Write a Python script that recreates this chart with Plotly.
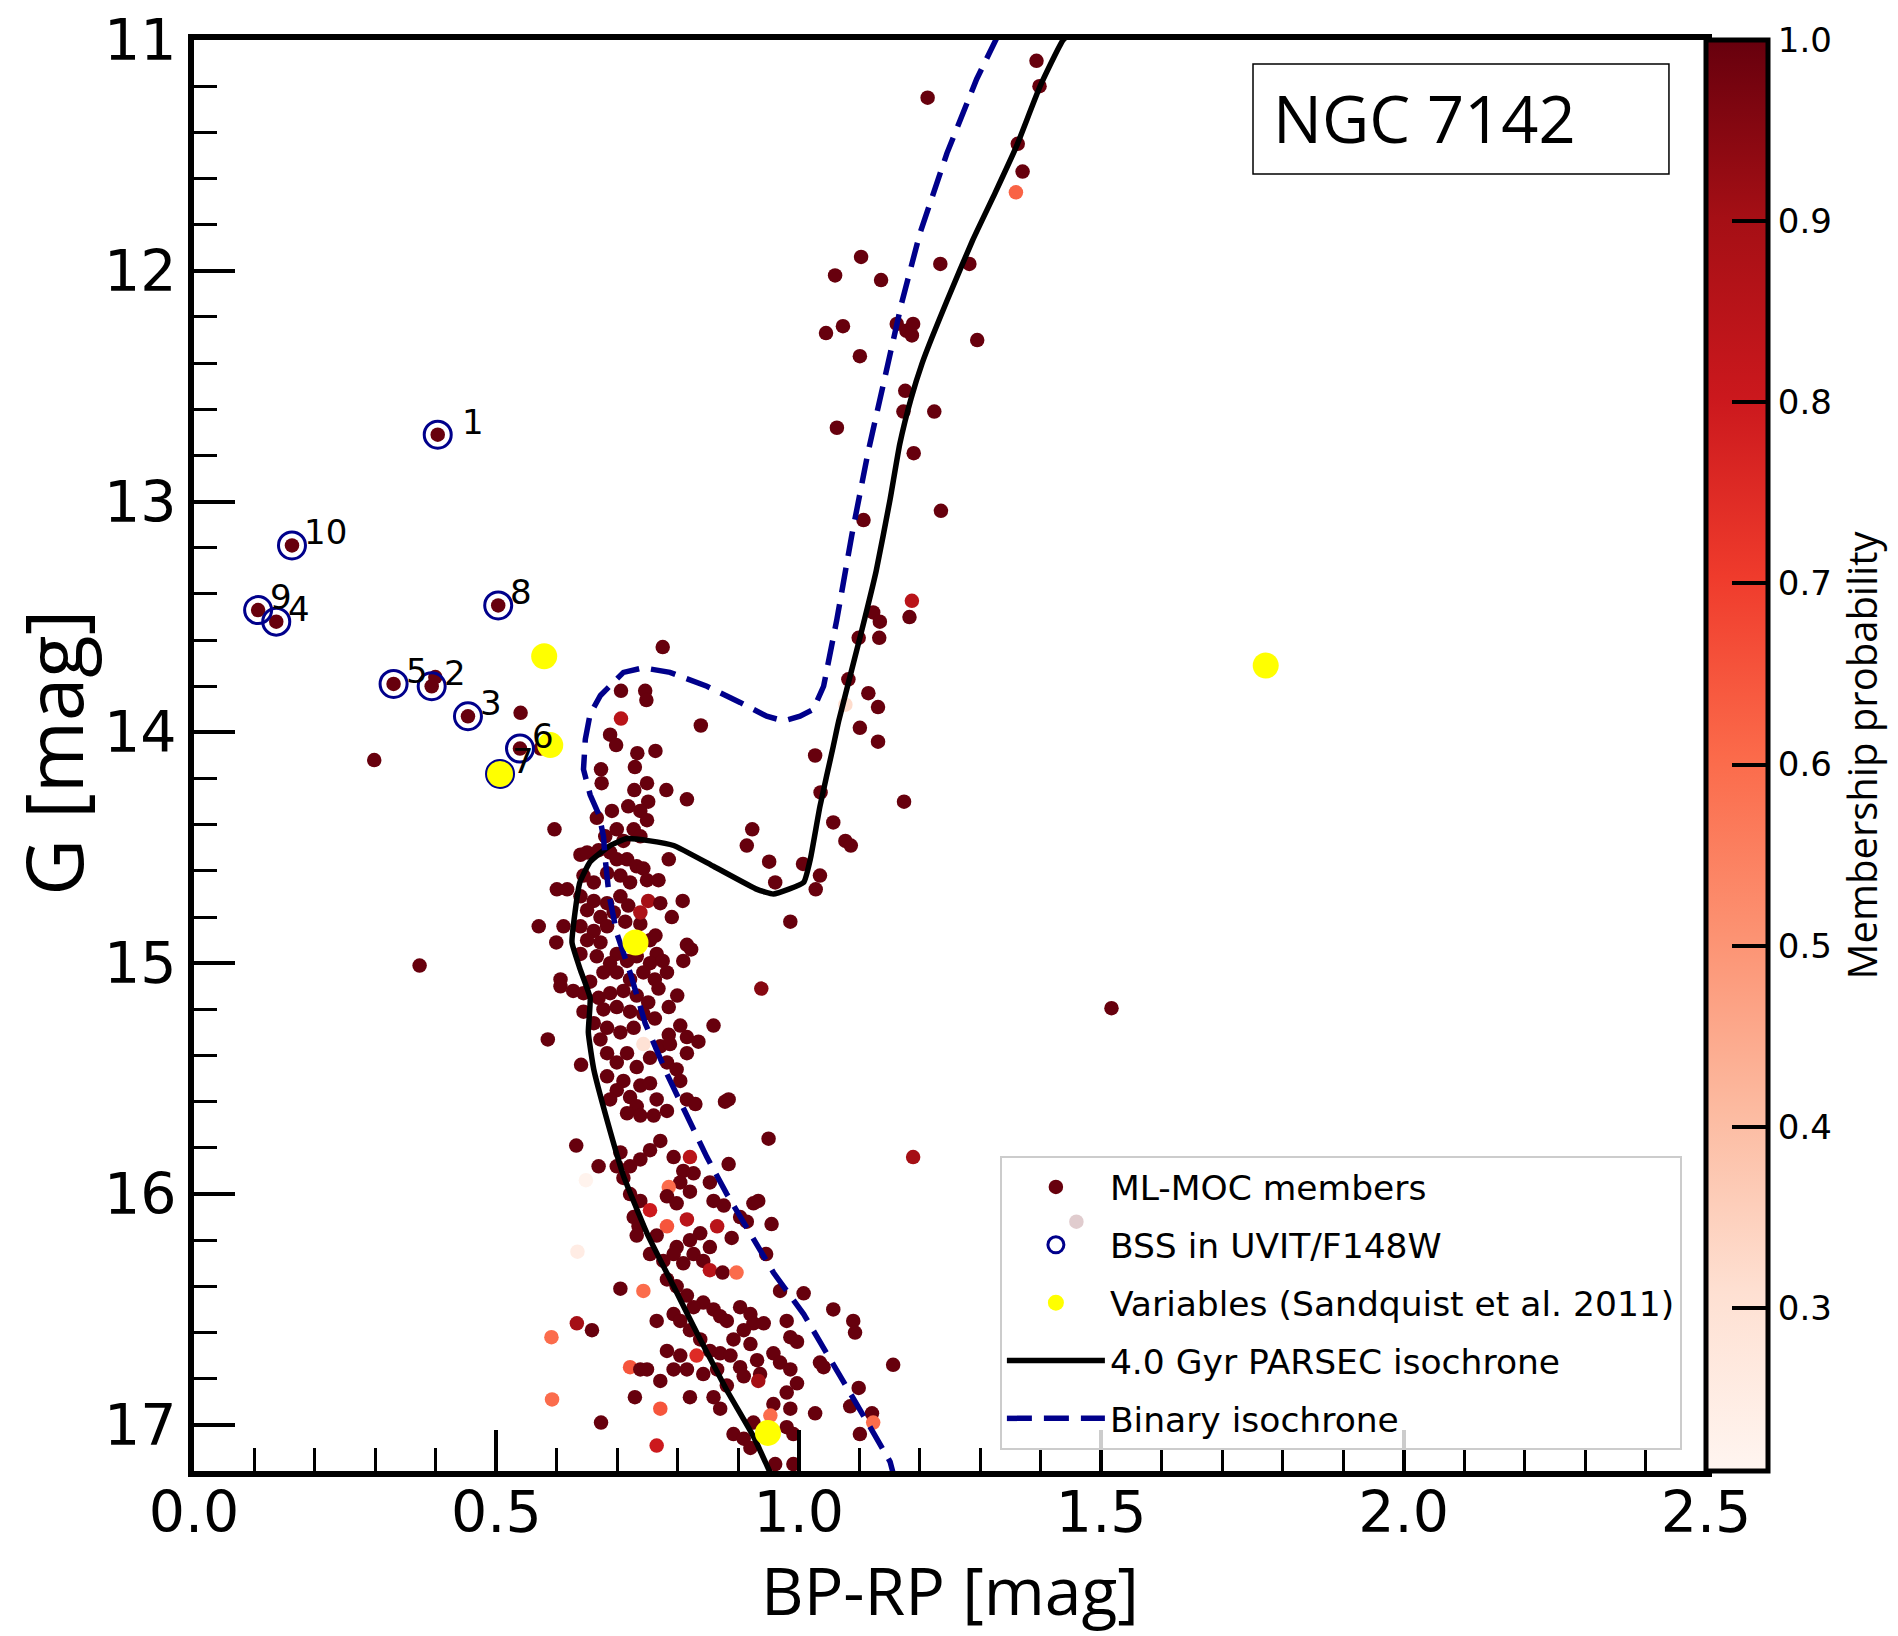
import plotly.graph_objects as go

# ---------------- data ----------------
# cluster members: (BP-RP, G, membership probability)
bss_region_members = [
    (0.403, 12.71, 1.0), (0.162, 13.19, 1.0), (0.106, 13.47, 1.0), (0.136, 13.52, 1.0),
    (0.503, 13.45, 1.0), (0.330, 13.79, 1.0), (0.393, 13.80, 1.0), (0.399, 13.76, 1.0),
    (0.453, 13.93, 1.0), (0.539, 14.07, 1.0), (0.506, 14.18, 1.0), (0.573, 14.07, 1.0),
    (0.540, 13.915, 1.0), (0.298, 14.12, 1.0), (0.373, 15.01, 1.0),
]
giant_branch_members = [
    (1.393, 11.09, 1), (1.398, 11.20, 1), (1.213, 11.25, 1), (1.362, 11.45, 1), (1.370, 11.57, 1),
    (1.359, 11.66, 0.62), (1.103, 11.94, 1), (1.060, 12.02, 1), (1.136, 12.04, 1), (1.234, 11.97, 1),
    (1.282, 11.97, 1), (1.045, 12.27, 1), (1.073, 12.24, 1), (1.101, 12.37, 1), (1.162, 12.23, 1),
    (1.178, 12.26, 1), (1.187, 12.28, 1), (1.189, 12.23, 1), (1.295, 12.30, 1), (1.176, 12.52, 1),
    (1.173, 12.61, 1), (1.224, 12.61, 1), (1.063, 12.68, 1), (1.190, 12.79, 1), (1.235, 13.04, 1),
    (1.107, 13.08, 1), (1.187, 13.43, 0.85), (1.183, 13.50, 1), (1.123, 13.48, 1), (1.134, 13.52, 1),
    (1.099, 13.59, 1), (1.133, 13.59, 1), (1.082, 13.77, 1), (1.115, 13.83, 1), (1.131, 13.89, 1),
    (1.077, 13.88, 0.32), (1.101, 13.98, 1), (1.131, 14.04, 1), (1.174, 14.30, 1), (1.027, 14.10, 1),
    (1.036, 14.26, 1), (1.057, 14.39, 1), (1.077, 14.47, 1), (1.086, 14.49, 1), (1.035, 14.62, 1),
    (1.028, 14.68, 1), (1.007, 14.57, 1), (0.961, 14.65, 1), (0.951, 14.56, 1), (0.914, 14.49, 1),
    (0.923, 14.42, 1), (0.986, 14.82, 1), (1.517, 15.195, 1), (1.189, 15.84, 0.9), (1.459, 16.12, 1),
    (1.156, 16.74, 1),
]
turnoff_members = [
    (0.775, 13.63, 1), (0.706, 13.82, 1), (0.746, 13.82, 1), (0.748, 13.86, 1), (0.706, 13.94, 0.85),
    (0.838, 13.97, 1), (0.688, 14.01, 1), (0.698, 14.055, 1), (0.733, 14.09, 1), (0.763, 14.08, 1),
    (0.673, 14.16, 1), (0.729, 14.15, 1), (0.674, 14.22, 1), (0.749, 14.22, 1), (0.728, 14.25, 1),
    (0.781, 14.25, 1), (0.815, 14.29, 1), (0.596, 14.42, 1), (0.751, 14.30, 1), (0.738, 14.34, 1),
    (0.718, 14.32, 1), (0.691, 14.34, 1), (0.666, 14.37, 1), (0.749, 14.38, 1), (0.727, 14.42, 1),
    (0.699, 14.42, 1), (0.680, 14.45, 1), (0.738, 14.45, 1), (0.710, 14.47, 1), (0.639, 14.53, 1),
    (0.650, 14.52, 1), (0.669, 14.51, 1), (0.688, 14.52, 1), (0.699, 14.55, 1), (0.716, 14.55, 1),
    (0.732, 14.58, 1), (0.743, 14.59, 1), (0.785, 14.55, 1), (0.683, 14.61, 1), (0.705, 14.62, 1),
    (0.644, 14.62, 1), (0.661, 14.65, 1), (0.721, 14.65, 1), (0.749, 14.64, 1), (0.768, 14.64, 1),
    (0.600, 14.68, 1), (0.617, 14.68, 1),
]
upper_ms_members = [
    (0.639, 14.71, 1), (0.661, 14.73, 1), (0.683, 14.74, 1), (0.705, 14.71, 1), (0.718, 14.75, 1),
    (0.650, 14.77, 1), (0.672, 14.80, 1), (0.694, 14.78, 1), (0.713, 14.82, 1), (0.738, 14.83, 1),
    (0.751, 14.73, 0.9), (0.738, 14.78, 0.88), (0.771, 14.74, 1), (0.808, 14.73, 1), (0.790, 14.80, 1),
    (0.570, 14.84, 1), (0.611, 14.84, 1), (0.639, 14.84, 1), (0.661, 14.86, 1), (0.683, 14.84, 1),
    (0.599, 14.91, 1), (0.650, 14.90, 1), (0.672, 14.91, 1), (0.754, 14.90, 1), (0.763, 14.88, 1),
    (0.815, 14.92, 1), (0.822, 14.94, 1), (0.639, 14.96, 1), (0.699, 14.96, 1), (0.765, 14.96, 1),
    (0.666, 14.97, 1), (0.688, 15.00, 1), (0.716, 14.99, 1), (0.732, 14.97, 1), (0.754, 15.00, 1),
    (0.775, 14.99, 1), (0.809, 14.99, 1), (0.606, 15.07, 1), (0.606, 15.10, 1), (0.627, 15.12, 1),
    (0.677, 15.04, 1), (0.699, 15.04, 1), (0.743, 15.04, 1), (0.782, 15.04, 1), (0.655, 15.08, 1),
    (0.721, 15.07, 1), (0.762, 15.07, 1), (0.644, 15.13, 1), (0.669, 15.15, 1), (0.688, 15.13, 1),
    (0.710, 15.12, 1), (0.732, 15.14, 1), (0.751, 15.17, 1), (0.768, 15.11, 1), (0.799, 15.14, 1),
    (0.938, 15.11, 0.95), (0.644, 15.21, 1), (0.677, 15.20, 1), (0.699, 15.19, 1), (0.721, 15.21, 1),
    (0.743, 15.22, 1), (0.762, 15.24, 1), (0.785, 15.19, 1), (0.585, 15.33, 1), (0.661, 15.26, 1),
    (0.683, 15.28, 1), (0.705, 15.30, 1), (0.727, 15.28, 1), (0.804, 15.27, 1), (0.859, 15.27, 1),
    (0.785, 15.31, 1), (0.815, 15.32, 1), (0.672, 15.33, 1), (0.743, 15.35, 0.3), (0.834, 15.34, 1),
    (0.815, 15.39, 1), (0.683, 15.39, 1), (0.716, 15.39, 1), (0.754, 15.41, 1), (0.771, 15.36, 1),
    (0.787, 15.35, 1), (0.699, 15.43, 1), (0.732, 15.45, 1), (0.782, 15.43, 1), (0.798, 15.46, 1),
    (0.640, 15.44, 1), (0.683, 15.49, 1), (0.710, 15.51, 1), (0.738, 15.53, 1), (0.754, 15.52, 1),
    (0.804, 15.51, 1), (0.699, 15.55, 1), (0.688, 15.59, 1), (0.721, 15.58, 1), (0.765, 15.59, 1),
    (0.815, 15.59, 1), (0.829, 15.61, 1), (0.878, 15.60, 1), (0.884, 15.59, 1), (0.732, 15.62, 1),
    (0.716, 15.65, 1), (0.738, 15.66, 1), (0.760, 15.66, 1), (0.782, 15.64, 1),
]
lower_ms_members = [
    (0.950, 15.76, 1), (0.771, 15.77, 1), (0.632, 15.79, 1), (0.754, 15.81, 1), (0.705, 15.82, 1),
    (0.793, 15.84, 1), (0.738, 15.85, 1), (0.820, 15.84, 0.85), (0.884, 15.87, 1), (0.669, 15.88, 1),
    (0.699, 15.88, 1), (0.721, 15.88, 1), (0.809, 15.90, 1), (0.826, 15.91, 1), (0.710, 15.93, 1),
    (0.648, 15.94, 0.22), (0.804, 15.95, 1), (0.853, 15.95, 1), (0.785, 15.97, 0.6), (0.721, 16.00, 1),
    (0.820, 15.99, 1), (0.782, 16.01, 1), (0.738, 16.03, 1), (0.798, 16.04, 1), (0.859, 16.03, 1),
    (0.876, 16.05, 1), (0.925, 16.04, 1), (0.933, 16.03, 1), (0.754, 16.07, 0.8), (0.727, 16.10, 1),
    (0.903, 16.10, 1), (0.815, 16.11, 0.85), (0.914, 16.12, 1), (0.955, 16.13, 1), (0.782, 16.14, 0.65),
    (0.735, 16.14, 1), (0.865, 16.14, 0.85), (0.837, 16.17, 1), (0.732, 16.18, 1), (0.765, 16.18, 1),
    (0.889, 16.19, 1), (0.820, 16.20, 1), (0.798, 16.23, 1), (0.853, 16.23, 1), (0.634, 16.25, 0.25),
    (0.826, 16.26, 1), (0.793, 16.26, 1), (0.754, 16.26, 1), (0.946, 16.26, 1), (0.776, 16.29, 1),
    (0.842, 16.29, 1), (0.809, 16.30, 1), (0.853, 16.33, 0.85), (0.874, 16.34, 1), (0.897, 16.34, 0.6),
    (0.782, 16.37, 1), (0.798, 16.40, 1), (0.705, 16.41, 1), (0.743, 16.42, 0.6), (0.969, 16.42, 1),
    (1.008, 16.43, 1), (0.815, 16.44, 1), (0.842, 16.47, 1), (0.826, 16.49, 1), (0.903, 16.49, 1),
    (0.859, 16.50, 1), (1.057, 16.50, 1), (0.793, 16.52, 1), (0.920, 16.52, 1), (0.870, 16.53, 1),
    (0.765, 16.55, 1), (0.804, 16.55, 1), (0.881, 16.55, 1), (0.980, 16.55, 1), (1.090, 16.55, 1),
    (0.633, 16.56, 0.9), (0.925, 16.56, 1), (0.942, 16.56, 1), (0.658, 16.59, 1), (0.820, 16.59, 1),
    (0.909, 16.59, 1), (1.093, 16.60, 1), (0.591, 16.62, 0.6), (0.986, 16.62, 1), (0.837, 16.63, 1),
    (0.892, 16.63, 1), (0.997, 16.64, 1), (0.920, 16.65, 1), (0.782, 16.68, 1), (0.853, 16.68, 1),
    (0.870, 16.69, 1), (0.958, 16.69, 1), (0.804, 16.70, 1), (0.831, 16.70, 0.75), (0.887, 16.70, 1),
    (0.931, 16.72, 1), (0.969, 16.73, 1), (1.035, 16.73, 1), (0.721, 16.75, 0.65), (0.903, 16.75, 1),
    (1.041, 16.75, 1), (0.738, 16.76, 1), (0.749, 16.76, 1), (0.793, 16.76, 1), (0.815, 16.76, 1),
    (0.865, 16.76, 1), (0.986, 16.76, 1), (0.842, 16.78, 1), (0.936, 16.78, 1), (0.909, 16.79, 1),
    (0.771, 16.81, 1), (0.933, 16.81, 0.9), (0.997, 16.82, 1), (0.881, 16.83, 1), (1.099, 16.84, 1),
    (0.980, 16.86, 1), (0.729, 16.88, 1), (0.820, 16.88, 1), (0.859, 16.88, 1), (0.592, 16.89, 0.6),
    (0.958, 16.91, 1), (1.085, 16.92, 1), (0.771, 16.93, 0.65), (0.870, 16.93, 1), (0.986, 16.93, 1),
    (1.027, 16.95, 1), (1.121, 16.95, 1), (0.953, 16.96, 0.6), (0.673, 16.99, 1), (0.925, 16.99, 1),
    (1.123, 16.99, 0.6), (0.980, 17.01, 1), (0.892, 17.04, 1), (0.991, 17.04, 1), (1.101, 17.04, 1),
    (0.909, 17.06, 1), (0.765, 17.09, 0.8), (0.920, 17.10, 1), (0.961, 17.17, 1), (0.991, 17.17, 1),
]

# blue stragglers detected in UVIT/F148W
bss_id = [1, 2, 3, 4, 5, 6, 7, 8, 9, 10]
bss_bprp = [0.403, 0.393, 0.453, 0.136, 0.330, 0.539, 0.506, 0.503, 0.106, 0.162]
bss_g = [12.71, 13.80, 13.93, 13.52, 13.79, 14.07, 14.18, 13.45, 13.47, 13.19]

# variables (Sandquist et al. 2011)
var_bprp = [0.579, 0.589, 0.506, 0.730, 0.949, 1.772]
var_g = [13.67, 14.055, 14.18, 14.91, 17.035, 13.71]

# 4.0 Gyr PARSEC isochrone
iso_bprp = [0.960, 0.925, 0.881, 0.837, 0.793, 0.749, 0.710, 0.683, 0.661, 0.652, 0.655, 0.639,
            0.625, 0.630, 0.638, 0.655, 0.688, 0.716, 0.754, 0.793, 0.859, 0.931, 0.958, 1.008,
            1.019, 1.035, 1.057, 1.066, 1.103, 1.128, 1.151, 1.167, 1.186, 1.204, 1.220, 1.245,
            1.287, 1.325, 1.360, 1.399, 1.437, 1.460]
iso_g = [17.25, 17.05, 16.85, 16.63, 16.40, 16.17, 15.92, 15.68, 15.46, 15.30, 15.15, 15.03,
         14.91, 14.78, 14.65, 14.56, 14.49, 14.46, 14.47, 14.49, 14.58, 14.68, 14.70, 14.65,
         14.55, 14.32, 14.06, 13.95, 13.57, 13.30, 12.99, 12.75, 12.55, 12.40, 12.29, 12.13,
         11.87, 11.66, 11.46, 11.20, 11.00, 10.95]

# binary isochrone
bin_bprp = [1.160, 1.151, 1.118, 1.085, 1.046, 1.008, 0.958, 0.920, 0.881, 0.848, 0.815, 0.782,
            0.746, 0.721, 0.699, 0.686, 0.680, 0.677, 0.670, 0.655, 0.644, 0.647, 0.655, 0.672,
            0.710, 0.743, 0.787, 0.848, 0.903, 0.947, 0.975, 1.002, 1.024, 1.041, 1.063, 1.088,
            1.115, 1.145, 1.170, 1.200, 1.245, 1.294, 1.324, 1.335]
bin_g = [17.25, 17.16, 17.01, 16.86, 16.69, 16.52, 16.34, 16.17, 16.00, 15.84, 15.66, 15.48,
         15.26, 15.04, 14.87, 14.70, 14.55, 14.45, 14.36, 14.27, 14.16, 14.03, 13.92, 13.84,
         13.74, 13.72, 13.74, 13.80, 13.87, 13.93, 13.95, 13.93, 13.90, 13.80, 13.51, 13.14,
         12.78, 12.42, 12.14, 11.84, 11.49, 11.17, 11.00, 10.95]

cbar_ticks = [0.3, 0.4, 0.5, 0.6, 0.7, 0.8, 0.9, 1.0]
x_range = [0.0, 2.5]
g_range = [17.2, 11.0]

# ---------------- figure ----------------
members = (bss_region_members + giant_branch_members + turnoff_members
           + upper_ms_members + lower_ms_members)
mem_bprp = [m[0] for m in members]
mem_g = [m[1] for m in members]
mem_prob = [m[2] for m in members]

reds = [[0.0, 'rgb(255,245,240)'], [0.125, 'rgb(254,224,210)'], [0.25, 'rgb(252,187,161)'],
        [0.375, 'rgb(252,146,114)'], [0.5, 'rgb(251,106,74)'], [0.625, 'rgb(239,59,44)'],
        [0.75, 'rgb(203,24,29)'], [0.875, 'rgb(165,15,21)'], [1.0, 'rgb(103,0,13)']]

TICKFONT = dict(family='DejaVu Sans', size=57, color='black')
fig = go.Figure()

fig.add_trace(go.Scatter(
    x=mem_bprp, y=mem_g, mode='markers', name='ML-MOC members',
    legendrank=1, legendgroup='a',
    marker=dict(size=14.5, color=mem_prob, colorscale=reds, cmin=0.21, cmax=1.0,
                line=dict(width=0), showscale=True,
                colorbar=dict(x=1.0, xref='paper', xanchor='left', xpad=0,
                              y=0.5, yanchor='middle', len=1.0, lenmode='fraction', ypad=0,
                              thickness=62, outlinewidth=5, outlinecolor='black',
                              ticks='inside', ticklen=38, tickwidth=4, tickcolor='black',
                              tickvals=cbar_ticks, ticktext=[f'{v:.1f}' for v in cbar_ticks],
                              tickfont=dict(family='DejaVu Sans', size=34, color='black'),
                              title=dict(text='Membership probability', side='right',
                                         font=dict(family='Open Sans', size=40, color='black'))))))

fig.add_trace(go.Scatter(
    x=iso_bprp, y=iso_g, mode='lines', name='4.0 Gyr PARSEC isochrone',
    legendrank=4, legendgroup='d', line=dict(color='black', width=5.5, shape='spline',
                                             smoothing=0.4)))
fig.add_trace(go.Scatter(
    x=bin_bprp, y=bin_g, mode='lines', name='Binary isochrone',
    legendrank=5, legendgroup='e', line=dict(color='#00008b', width=5.5, dash='25px,12px')))

fig.add_trace(go.Scatter(
    x=bss_bprp, y=bss_g, mode='markers', name='BSS in UVIT/F148W',
    legendrank=2, legendgroup='b',
    marker=dict(symbol='circle-open', size=27, color='#00008b', line=dict(width=3))))
fig.add_trace(go.Scatter(
    x=var_bprp, y=var_g, mode='markers', name='Variables (Sandquist et al. 2011)',
    legendrank=3, legendgroup='c',
    marker=dict(size=26, color='#ffff00', line=dict(width=0))))

for i, xb, gb in zip(bss_id, bss_bprp, bss_g):
    fig.add_annotation(x=xb, y=gb, text=str(i), showarrow=False, xanchor='left',
                       yanchor='middle', xshift=22 if i == 1 else 10, yshift=13,
                       font=dict(family='DejaVu Sans', size=34, color='black'))

# cluster name box
fig.add_shape(type='rect', xref='paper', yref='paper', x0=0.7004, x1=0.9755,
              y0=0.9064, y1=0.9832, line=dict(color='black', width=1.5),
              fillcolor='white', layer='above')
fig.add_annotation(xref='paper', yref='paper', x=0.7125, y=0.9457, text='NGC 7142',
                   showarrow=False, xanchor='left', yanchor='middle',
                   font=dict(family='Open Sans', size=65, color='black'))

# axis titles
fig.add_annotation(xref='paper', yref='paper', x=0.5, y=-0.1150, text='BP-RP [mag]',
                   showarrow=False, xanchor='center', yanchor='bottom',
                   font=dict(family='Open Sans', size=66, color='black'))
fig.add_annotation(xref='paper', yref='paper', x=-0.0935, y=0.5017, text='G [mag]',
                   showarrow=False, xanchor='center', yanchor='middle', textangle=-90,
                   font=dict(family='Open Sans', size=78, color='black'))

axis_common = dict(showline=True, linewidth=6, linecolor='black', mirror=True,
                   showgrid=False, zeroline=False, ticks='inside', ticklen=41,
                   tickwidth=4, tickcolor='black', tickfont=TICKFONT)
fig.update_xaxes(range=x_range, tick0=0, dtick=0.5, tickformat='.1f', ticklabelstandoff=-13,
                 minor=dict(dtick=0.1, ticks='inside', ticklen=23, tickwidth=3,
                            tickcolor='black', showgrid=False),
                 **axis_common)
fig.update_yaxes(range=g_range, tick0=11, dtick=1,
                 minor=dict(dtick=0.2, ticks='inside', ticklen=23, tickwidth=3,
                            tickcolor='black', showgrid=False),
                 **axis_common)

fig.update_layout(
    width=1898, height=1636, autosize=False,
    margin=dict(l=194, r=192, t=40, b=165, autoexpand=False),
    plot_bgcolor='white', paper_bgcolor='white',
    showlegend=True,
    legend=dict(x=0.533, y=0.2201, xanchor='left', yanchor='top',
                bgcolor='rgba(255,255,255,0.8)', bordercolor='#cccccc', borderwidth=2,
                font=dict(family='DejaVu Sans', size=34.5, color='black'),
                itemwidth=98, tracegroupgap=10, traceorder='grouped'),
)

fig.write_html('out.html')
